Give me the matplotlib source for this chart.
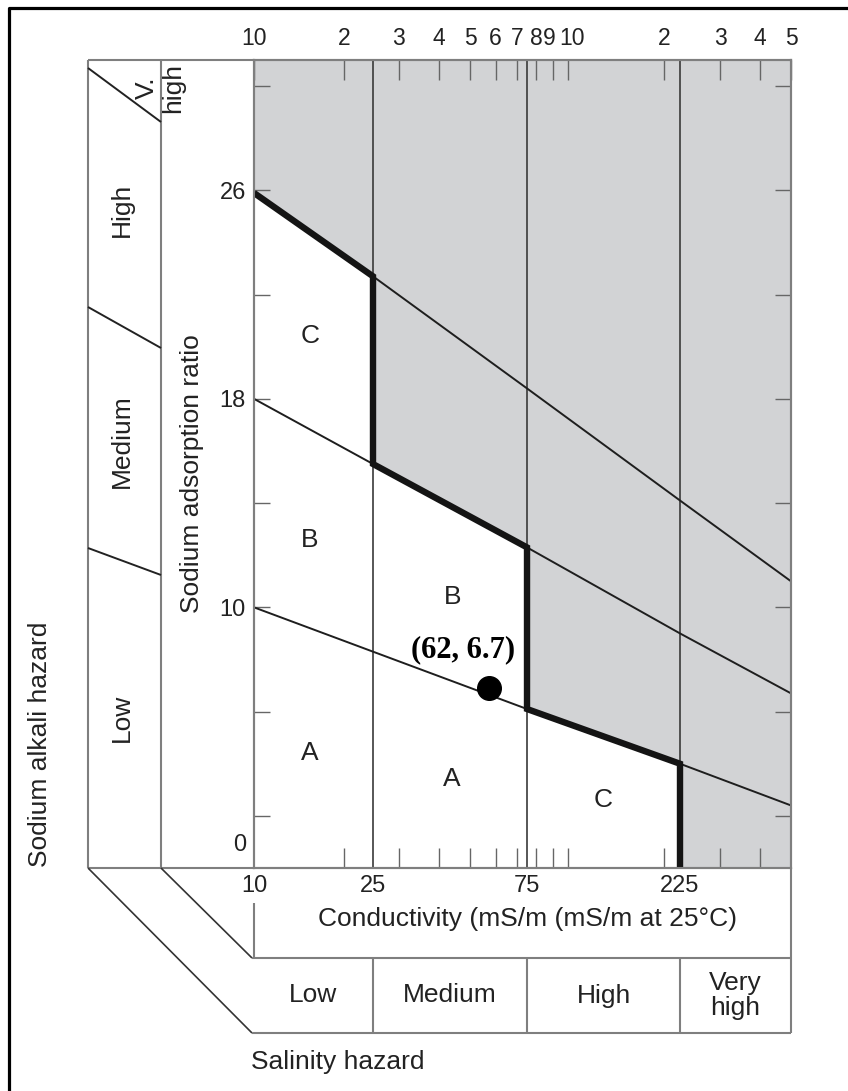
import matplotlib
matplotlib.use('Agg')
import matplotlib.pyplot as plt
import numpy as np
from matplotlib.lines import Line2D
from matplotlib.ticker import NullFormatter, NullLocator
from matplotlib.transforms import ScaledTranslation

plt.rcParams['font.family'] = ['Liberation Sans', 'DejaVu Sans']

# ---------------- data ----------------
ec_breaks = [10, 25, 75, 225, 500]             # conductivity (mS/m) where the lines are read
sar_line_low = [10.0, 8.3, 6.1, 4.0, 2.4]       # S1/S2 boundary
sar_line_mid = [18.0, 15.5, 12.3, 9.0, 6.7]     # S2/S3 boundary
sar_line_high = [25.9, 22.7, 18.4, 14.1, 11.0]  # S3/S4 boundary
salinity_bounds = [10, 25, 75, 225, 500]
salinity_classes = ['Low', 'Medium', 'High', 'Very\nhigh']
region_labels = ['C', 'B', 'A', 'B', 'A', 'C']
region_ec = [15.4, 15.4, 15.4, 44, 44, 129]
region_sar = [20.4, 12.6, 4.4, 10.4, 3.4, 2.6]
sample_ec = 57
sample_sar = 6.9
sample_label = '(62, 6.7)'
top_ticks = [10, 20, 30, 40, 50, 60, 70, 80, 90, 100, 200, 300, 400, 500]
top_tick_labels = ['10', '2', '3', '4', '5', '6', '7', '8', '9', '10', '2', '3', '4', '5']
minor_ticks = [20, 30, 40, 50, 60, 70, 80, 90, 100, 200, 300, 400]
bottom_ticks = [10, 25, 75, 225]
bottom_tick_labels = ['10', '25', '75', '225']
sar_ticks = [2, 6, 10, 14, 18, 22, 26, 30]
sar_tick_labels = ['', '', '10', '', '18', '', '26', '']
ec_min, ec_max = 10, 500
sar_min, sar_max = 0, 31

# hand-drawn log axis of the original diagram: log10(EC) -> axis fraction anchors
scale_ec = [10, 25, 75, 100, 225, 500]
scale_pos = [0.0, 0.2216, 0.5084, 0.5847, 0.7933, 1.0]
_LA = np.log10(scale_ec)
_FA = np.array(scale_pos)


def _pw(v, xs, ys):
    v = np.asarray(v, dtype=float)
    out = np.interp(v, xs, ys)
    s0 = (ys[1] - ys[0]) / (xs[1] - xs[0])
    s1 = (ys[-1] - ys[-2]) / (xs[-1] - xs[-2])
    out = np.where(v < xs[0], ys[0] + (v - xs[0]) * s0, out)
    out = np.where(v > xs[-1], ys[-1] + (v - xs[-1]) * s1, out)
    return out


def ec_fwd(x):
    x = np.asarray(x, dtype=float)
    return _pw(np.log10(np.clip(x, 1e-12, None)), _LA, _FA)


def ec_inv(f):
    return 10 ** _pw(f, _FA, _LA)


# ---------------- layout helpers ----------------
W, H = 848, 1091
fig = plt.figure(figsize=(W / 100, H / 100), dpi=100)


def fx(px):
    return px / W


def fy(py):
    return 1 - py / H


TXT = '#222222'
EDGE = '#7f7f7f'
GRAY = '#d2d3d5'
TICKC = '#666666'

# overlay (pixel coordinates) for the surrounding boxes
ov = fig.add_axes([0, 0, 1, 1], zorder=0)
ov.set_xlim(0, W)
ov.set_ylim(H, 0)
ov.axis('off')

# main axes
ax = fig.add_axes([fx(254), fy(868), fx(791) - fx(254), fy(60) - fy(868)], zorder=2)
ax.set_xscale('function', functions=(ec_fwd, ec_inv))
ax.set_xlim(ec_min, ec_max)
ax.set_ylim(sar_min, sar_max)

# boundary of usable region (thick line)
bx = [ec_breaks[0], ec_breaks[1], ec_breaks[1], ec_breaks[2], ec_breaks[2], ec_breaks[3], ec_breaks[3]]
by = [sar_line_high[0], sar_line_high[1], sar_line_mid[1], sar_line_mid[2],
      sar_line_low[2], sar_line_low[3], sar_min]

# gray area above / right of boundary
gx = bx + [ec_max, ec_max, ec_min]
gy = by + [sar_min, sar_max, sar_max]
ax.fill(gx, gy, color=GRAY, lw=0, zorder=0)

ax.vlines(salinity_bounds[1:-1], sar_min, sar_max, color='#3a3a3a', lw=1.2, zorder=1)
for s in (sar_line_low, sar_line_mid, sar_line_high):
    ax.plot(ec_breaks, s, color='#1e1e1e', lw=1.4, zorder=2)
ax.plot(bx, by, color='#141414', lw=4.6, solid_joinstyle='miter',
        solid_capstyle='butt', zorder=3)

for lab, e, s in zip(region_labels, region_ec, region_sar):
    ax.text(e, s, lab, fontsize=19, color=TXT, ha='center', va='center', zorder=4)

ax.plot([sample_ec], [sample_sar], 'o', ms=17, color='black', zorder=5)
ax.annotate(sample_label, xy=(sample_ec, sample_sar), xytext=(-18, 28),
            textcoords='offset points', ha='center', va='center',
            fontsize=22, fontweight='bold', family='Liberation Serif', color='black', zorder=5)

# ticks
ax.set_xticks(bottom_ticks, labels=bottom_tick_labels)
ax.set_xticks(minor_ticks, minor=True)
ax.xaxis.set_minor_formatter(NullFormatter())
ax.tick_params(axis='x', which='major', length=0, pad=5, labelsize=17, labelcolor=TXT)
ax.tick_params(axis='x', which='minor', direction='in', length=14.4, width=1.0, color=TICKC)
ax.set_yticks(sar_ticks, labels=sar_tick_labels)
ax.tick_params(axis='y', which='major', direction='in', length=11.5, width=1.0, color=TICKC,
               left=True, right=True, pad=5.8, labelsize=17, labelcolor=TXT)
ax.annotate('0', xy=(0, 0), xycoords='axes fraction', xytext=(-5.8, 16.5),
            textcoords='offset points', ha='right', va='center', fontsize=17, color=TXT)

axt = ax.twiny()
axt.set_xscale('function', functions=(ec_fwd, ec_inv))
axt.set_xlim(ec_min, ec_max)
axt.set_xticks(top_ticks, labels=top_tick_labels)
axt.xaxis.set_minor_locator(NullLocator())
axt.tick_params(axis='x', direction='in', length=14.4, width=1.0, color=TICKC,
                pad=7, labelsize=16.5, labelcolor=TXT)
# the crowded "8 9 10" labels are nudged apart as in the original print
nudges = {8: -4, 9: 4}
for i, lbl in enumerate(axt.get_xticklabels()):
    if i in nudges:
        lbl.set_transform(lbl.get_transform() +
                          ScaledTranslation(nudges[i] / 100, 0, fig.dpi_scale_trans))

for a in (ax, axt):
    for sp in a.spines.values():
        sp.set_color(EDGE)
        sp.set_linewidth(1.5)


# ---------------- surrounding frame / boxes ----------------
def seg(xs, ys, color=EDGE, lw=1.5):
    ov.add_line(Line2D(xs, ys, color=color, lw=lw, solid_capstyle='butt'))


# outer frame (top and left)
ov.add_line(Line2D([8.5, 8.5, W], [H, 7.5, 7.5], color='black', lw=2.3))

# sodium hazard columns
seg([88, 88], [60, 868])
seg([161, 161], [60, 868])
seg([88, 254], [60, 60])
seg([88, 254], [868, 868])
seg([88, 161], [68, 122], color='#222222', lw=1.4)
seg([88, 161], [307, 348], color='#222222', lw=1.4)
seg([88, 161], [548, 575], color='#222222', lw=1.4)

ov.text(160, 88, 'V.\nhigh', rotation=90, ha='center', va='center', multialignment='center',
        fontsize=19, color=TXT, linespacing=1.15)
ov.text(122, 210, 'High', rotation=90, ha='center', va='center', fontsize=19, color=TXT)
ov.text(122, 441, 'Medium', rotation=90, ha='center', va='center', fontsize=19, color=TXT)
ov.text(122, 718, 'Low', rotation=90, ha='center', va='center', fontsize=19, color=TXT)
ov.text(192, 474, 'Sodium adsorption ratio', rotation=90, ha='center', va='center',
        fontsize=19, color=TXT)
ov.text(40, 744, 'Sodium alkali hazard', rotation=90, ha='center', va='center',
        fontsize=19, color=TXT)

# bottom slanted lines and boxes
seg([88, 252], [868, 1033], color='#333333', lw=1.2)
seg([161, 252], [868, 958], color='#333333', lw=1.2)
seg([254, 254], [903, 958])
seg([791, 791], [868, 1033])
seg([252, 791], [958, 958])
seg([252, 791], [1033, 1033])

ov.text(528, 919, 'Conductivity (mS/m (mS/m at 25°C)', ha='center', va='center',
        fontsize=19, color=TXT)
ov.text(251, 1062, 'Salinity hazard', ha='left', va='center', fontsize=19, color=TXT)

# salinity classes box sharing the conductivity scale
axs = fig.add_axes([fx(254), fy(1033), fx(791) - fx(254), fy(958) - fy(1033)], zorder=1)
axs.set_xscale('function', functions=(ec_fwd, ec_inv))
axs.set_xlim(ec_min, ec_max)
axs.set_ylim(0, 1)
axs.axis('off')
axs.vlines(salinity_bounds[1:-1], 0, 1, color=EDGE, lw=1.5)
for i, lab in enumerate(salinity_classes):
    c = float(ec_inv((ec_fwd(salinity_bounds[i]) + ec_fwd(salinity_bounds[i + 1])) / 2))
    axs.text(c, 0.5, lab, ha='center', va='center', fontsize=19, color=TXT, linespacing=1.05)

fig.savefig('out.png', dpi=100)
